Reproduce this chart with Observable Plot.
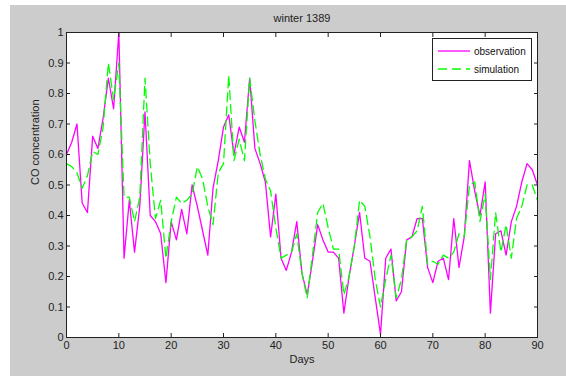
<!DOCTYPE html>
<html>
<head>
<meta charset="utf-8">
<script src="https://cdn.jsdelivr.net/npm/d3@7"></script>
<script src="https://cdn.jsdelivr.net/npm/@observablehq/plot@0.6"></script>
<style>
  html, body { margin: 0; padding: 0; background: #ffffff; }
  body { width: 566px; height: 376px; overflow: hidden; position: relative;
         font-family: "Liberation Sans", Arial, sans-serif; }
  #fig { position: absolute; left: 10px; top: 5px; width: 556px; height: 371px; background: #cccccc; }
  #fig svg { display: block; }
  #legend { position: absolute; left: 432px; top: 38px; width: 98px; height: 41px;
            background: #ffffff; border: 1px solid #222; font-size: 10px; color: #111; }
  .row { position: absolute; left: 5px; height: 14px; display: flex; align-items: center; }
  .row svg { display: block; margin-right: 4px; }
</style>
</head>
<body>
<div id="fig"></div>
<div id="legend">
  <div class="row" style="top:5px">
    <svg width="32" height="6"><line x1="0" y1="3" x2="32" y2="3" stroke="#ff00ff" stroke-width="1.3"/></svg>
    <span>observation</span>
  </div>
  <div class="row" style="top:23px">
    <svg width="32" height="6"><line x1="0" y1="3" x2="32" y2="3" stroke="#00ff00" stroke-width="1.3" stroke-dasharray="9,5"/></svg>
    <span>simulation</span>
  </div>
</div>
<script>
const title = "winter 1389";
const xLabel = "Days";
const yLabel = "CO concentration";
const seriesNames = ["observation", "simulation"];
const xTicks = [0, 10, 20, 30, 40, 50, 60, 70, 80, 90];
const yTicks = [0, 0.1, 0.2, 0.3, 0.4, 0.5, 0.6, 0.7, 0.8, 0.9, 1];

const observation = [
  0.60, 0.64, 0.70, 0.44, 0.41, 0.66, 0.62, 0.72, 0.85, 0.75,
  1.00, 0.26, 0.45, 0.28, 0.43, 0.74, 0.40, 0.38, 0.34, 0.18,
  0.38, 0.32, 0.42, 0.34, 0.50, 0.43, 0.35, 0.27, 0.49, 0.58,
  0.69, 0.73, 0.60, 0.69, 0.64, 0.85, 0.62, 0.57, 0.51, 0.33,
  0.47, 0.26, 0.22, 0.28, 0.38, 0.21, 0.14, 0.25, 0.37, 0.32,
  0.28, 0.28, 0.26, 0.08, 0.20, 0.30, 0.41, 0.26, 0.25, 0.13,
  0.01, 0.26, 0.29, 0.12, 0.15, 0.32, 0.33, 0.39, 0.39, 0.23,
  0.18, 0.25, 0.26, 0.19, 0.39, 0.23, 0.33, 0.58, 0.48, 0.40,
  0.51, 0.08, 0.34, 0.35, 0.27, 0.38, 0.43, 0.51, 0.57, 0.55,
  0.50
];
const simulation = [
  0.57, 0.56, 0.54, 0.49, 0.53, 0.61, 0.60, 0.69, 0.90, 0.78,
  0.90, 0.46, 0.46, 0.38, 0.46, 0.85, 0.57, 0.39, 0.45, 0.26,
  0.38, 0.46, 0.44, 0.45, 0.47, 0.56, 0.52, 0.43, 0.37, 0.54,
  0.57, 0.86, 0.58, 0.65, 0.58, 0.85, 0.71, 0.60, 0.52, 0.48,
  0.36, 0.26, 0.27, 0.28, 0.34, 0.21, 0.13, 0.27, 0.41, 0.44,
  0.36, 0.29, 0.29, 0.14, 0.20, 0.30, 0.45, 0.43, 0.33, 0.19,
  0.10, 0.19, 0.27, 0.13, 0.19, 0.32, 0.33, 0.35, 0.43, 0.24,
  0.25, 0.24, 0.27, 0.26, 0.28, 0.34, 0.33, 0.50, 0.51, 0.38,
  0.47, 0.19, 0.41, 0.28, 0.37, 0.26, 0.39, 0.43, 0.50, 0.50,
  0.45
];

const obsData = observation.map((v, i) => ({day: i, value: v}));
const simData = simulation.map((v, i) => ({day: i, value: v}));
const axisColor = "#222";

const chart = Plot.plot({
  width: 556,
  height: 371,
  marginLeft: 56,
  marginRight: 29,
  marginTop: 27,
  marginBottom: 39,
  style: { background: "transparent", fontFamily: "'Liberation Sans', Arial, sans-serif", fontSize: "11px", color: axisColor },
  x: { domain: [0, 90] },
  y: { domain: [0, 1] },
  marks: [
    Plot.frame({ fill: "white" }),
    Plot.line(obsData, { x: "day", y: "value", stroke: "#ff00ff", strokeWidth: 1.3 }),
    Plot.line(simData, { x: "day", y: "value", stroke: "#00ff00", strokeWidth: 1.3, strokeDasharray: "9,5" }),
    // inward ticks on all four sides
    Plot.axisX(xTicks, { anchor: "bottom", tickSize: 4, dy: -4, fill: "none", label: null, stroke: axisColor }),
    Plot.axisX(xTicks, { anchor: "top", tickSize: 4, dy: 4, fill: "none", label: null, stroke: axisColor }),
    Plot.axisY(yTicks, { anchor: "left", tickSize: 4, dx: 4, fill: "none", label: null, stroke: axisColor }),
    Plot.axisY(yTicks, { anchor: "right", tickSize: 4, dx: -4, fill: "none", label: null, stroke: axisColor }),
    // tick labels
    Plot.axisX(xTicks, { anchor: "bottom", tickSize: 0, tickPadding: 4, label: null, fill: axisColor }),
    Plot.axisY(yTicks, { anchor: "left", tickSize: 0, tickPadding: 3, label: null, fill: axisColor, tickFormat: d => String(d) }),
    Plot.frame({ stroke: axisColor, strokeWidth: 1 }),
    Plot.text([title], { frameAnchor: "top", dy: -18, text: d => d, fontSize: 11, fill: axisColor }),
    Plot.text([xLabel], { frameAnchor: "bottom", dy: 25, text: d => d, fontSize: 11, fill: axisColor }),
    Plot.text([yLabel], { frameAnchor: "left", dx: -31, rotate: -90, text: d => d, fontSize: 11, fill: axisColor })
  ]
});
document.getElementById("fig").appendChild(chart);
</script>
</body>
</html>
